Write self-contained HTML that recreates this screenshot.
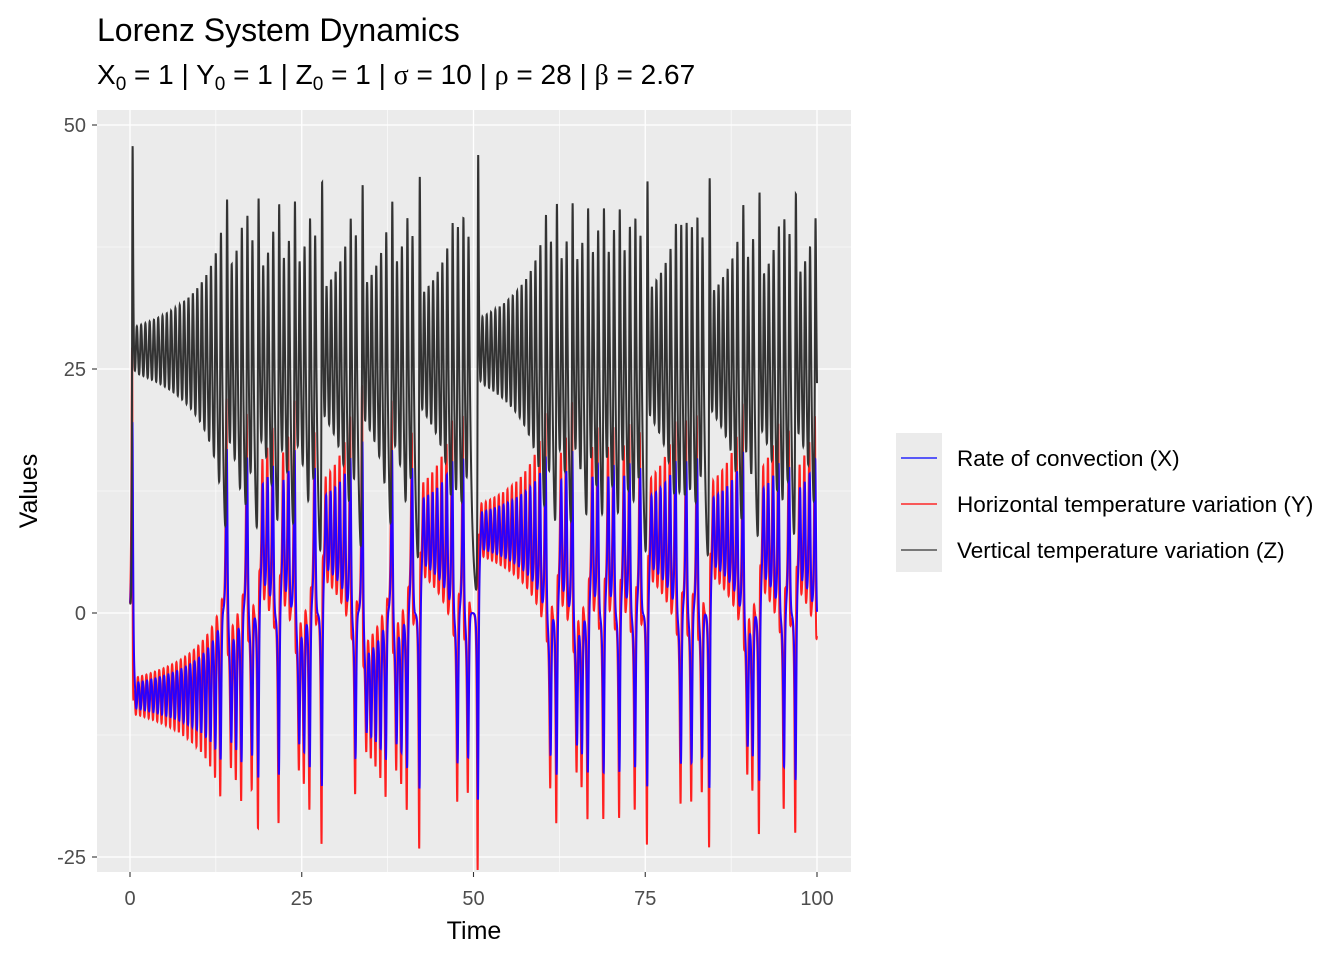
<!DOCTYPE html>
<html><head><meta charset="utf-8"><style>
body{margin:0;background:#fff;}
svg text{font-family:"Liberation Sans",sans-serif;}
</style></head><body>
<svg id="chart" width="1344" height="960" xmlns="http://www.w3.org/2000/svg">
<text x="97" y="41" font-size="32" fill="#000">Lorenz System Dynamics</text>
<text x="97" y="84" font-size="28" fill="#000">X<tspan font-size="19" dy="6">0</tspan><tspan dy="-6"> = 1 | Y</tspan><tspan font-size="19" dy="6">0</tspan><tspan dy="-6"> = 1 | Z</tspan><tspan font-size="19" dy="6">0</tspan><tspan dy="-6"> = 1 | </tspan><tspan font-family="Liberation Serif">σ</tspan> = 10 | <tspan font-family="Liberation Serif">ρ</tspan> = 28 | <tspan font-family="Liberation Serif">β</tspan> = 2.67</text>
<rect x="97" y="110" width="754" height="762" fill="#ebebeb"/>
<g id="grid"></g>
<defs><clipPath id="clip"><rect x="97" y="110" width="754" height="762"/></clipPath></defs>
<g id="series" clip-path="url(#clip)"></g>
<g id="axes"></g>
<text x="474" y="939" font-size="25" text-anchor="middle">Time</text>
<text transform="translate(37,491) rotate(-90)" font-size="25" text-anchor="middle">Values</text>
<g>
<rect x="896" y="433" width="46" height="139" fill="#ebebeb"/>
<line x1="901" x2="937" y1="458" y2="458" stroke="#0000ff" stroke-width="1.2"/>
<line x1="901" x2="937" y1="504" y2="504" stroke="#ff0000" stroke-width="1.2"/>
<line x1="901" x2="937" y1="550" y2="550" stroke="#333" stroke-width="1.2"/>
<text x="957" y="466" font-size="22.5">Rate of convection (X)</text>
<text x="957" y="512" font-size="22.5">Horizontal temperature variation (Y)</text>
<text x="957" y="558" font-size="22.5">Vertical temperature variation (Z)</text>
</g>
</svg>
<script>
const initialState=[1,1,1];
const params=[10,28,2.67];
const timeRange=[0,100];
const xTicks=[0,25,50,75,100];
const yTicks=[-25,0,25,50];
const xMinor=[12.5,37.5,62.5,87.5];
const yMinor=[-12.5,12.5,37.5];
const NS="http://www.w3.org/2000/svg";
const sx=v=>130+(v-0)*(817-130)/100;
const sy=v=>613-v*(613-369)/25;
function mk(tag,attrs,parent){const e=document.createElementNS(NS,tag);for(const k in attrs)e.setAttribute(k,attrs[k]);parent.appendChild(e);return e;}
const grid=document.getElementById('grid'),axes=document.getElementById('axes'),series=document.getElementById('series');
xMinor.forEach(v=>{const l=mk('line',{x1:sx(v),x2:sx(v),y1:110,y2:872,stroke:'#fff','stroke-width':0.6},grid);

});
yMinor.forEach(v=>{const l=mk('line',{x1:97,x2:851,y1:sy(v),y2:sy(v),stroke:'#fff','stroke-width':0.6},grid);

});
xTicks.forEach(v=>{const l=mk('line',{x1:sx(v),x2:sx(v),y1:110,y2:872,stroke:'#fff','stroke-width':1.3},grid);


const t=mk('line',{x1:sx(v),x2:sx(v),y1:872,y2:877,stroke:'#333','stroke-width':1.1},axes);


const tx=mk('text',{x:sx(v),y:905,'font-size':20,fill:'#4d4d4d','text-anchor':'middle'},axes);tx.textContent=v;

});
yTicks.forEach(v=>{const l=mk('line',{x1:97,x2:851,y1:sy(v),y2:sy(v),stroke:'#fff','stroke-width':1.3},grid);


const t=mk('line',{x1:92,x2:97,y1:sy(v),y2:sy(v),stroke:'#333','stroke-width':1.1},axes);


const tx=mk('text',{x:86,y:sy(v)+7,'font-size':20,fill:'#4d4d4d','text-anchor':'end'},axes);tx.textContent=v;

});
const [s,r,b]=params;
const f=(p)=>[s*(p[1]-p[0]),p[0]*(r-p[2])-p[1],p[0]*p[1]-b*p[2]];
const dt=0.01,N=Math.round((timeRange[1]-timeRange[0])/dt);
let p=initialState.slice();
const T=[timeRange[0]],X=[p[0]],Y=[p[1]],Z=[p[2]];
for(let i=1;i<=N;i++){
const k1=f(p),k2=f(p.map((v,j)=>v+dt/2*k1[j])),k3=f(p.map((v,j)=>v+dt/2*k2[j])),k4=f(p.map((v,j)=>v+dt*k3[j]));
p=p.map((v,j)=>v+dt/6*(k1[j]+2*k2[j]+2*k3[j]+k4[j]));
T.push(timeRange[0]+i*dt);X.push(p[0]);Y.push(p[1]);Z.push(p[2]);}
function line(arr,color,name){const d=arr.map((v,i)=>(i?'L':'M')+sx(T[i]).toFixed(2)+','+sy(v).toFixed(2)).join('');
const e=mk('path',{d:d,fill:'none',stroke:color,'stroke-width':2},series);

}
line(Y,'#ff2020','series-y-line');
line(X,'#2a00ff','series-x-line');
line(Z,'#333333','series-z-line');
</script>
</body></html>
